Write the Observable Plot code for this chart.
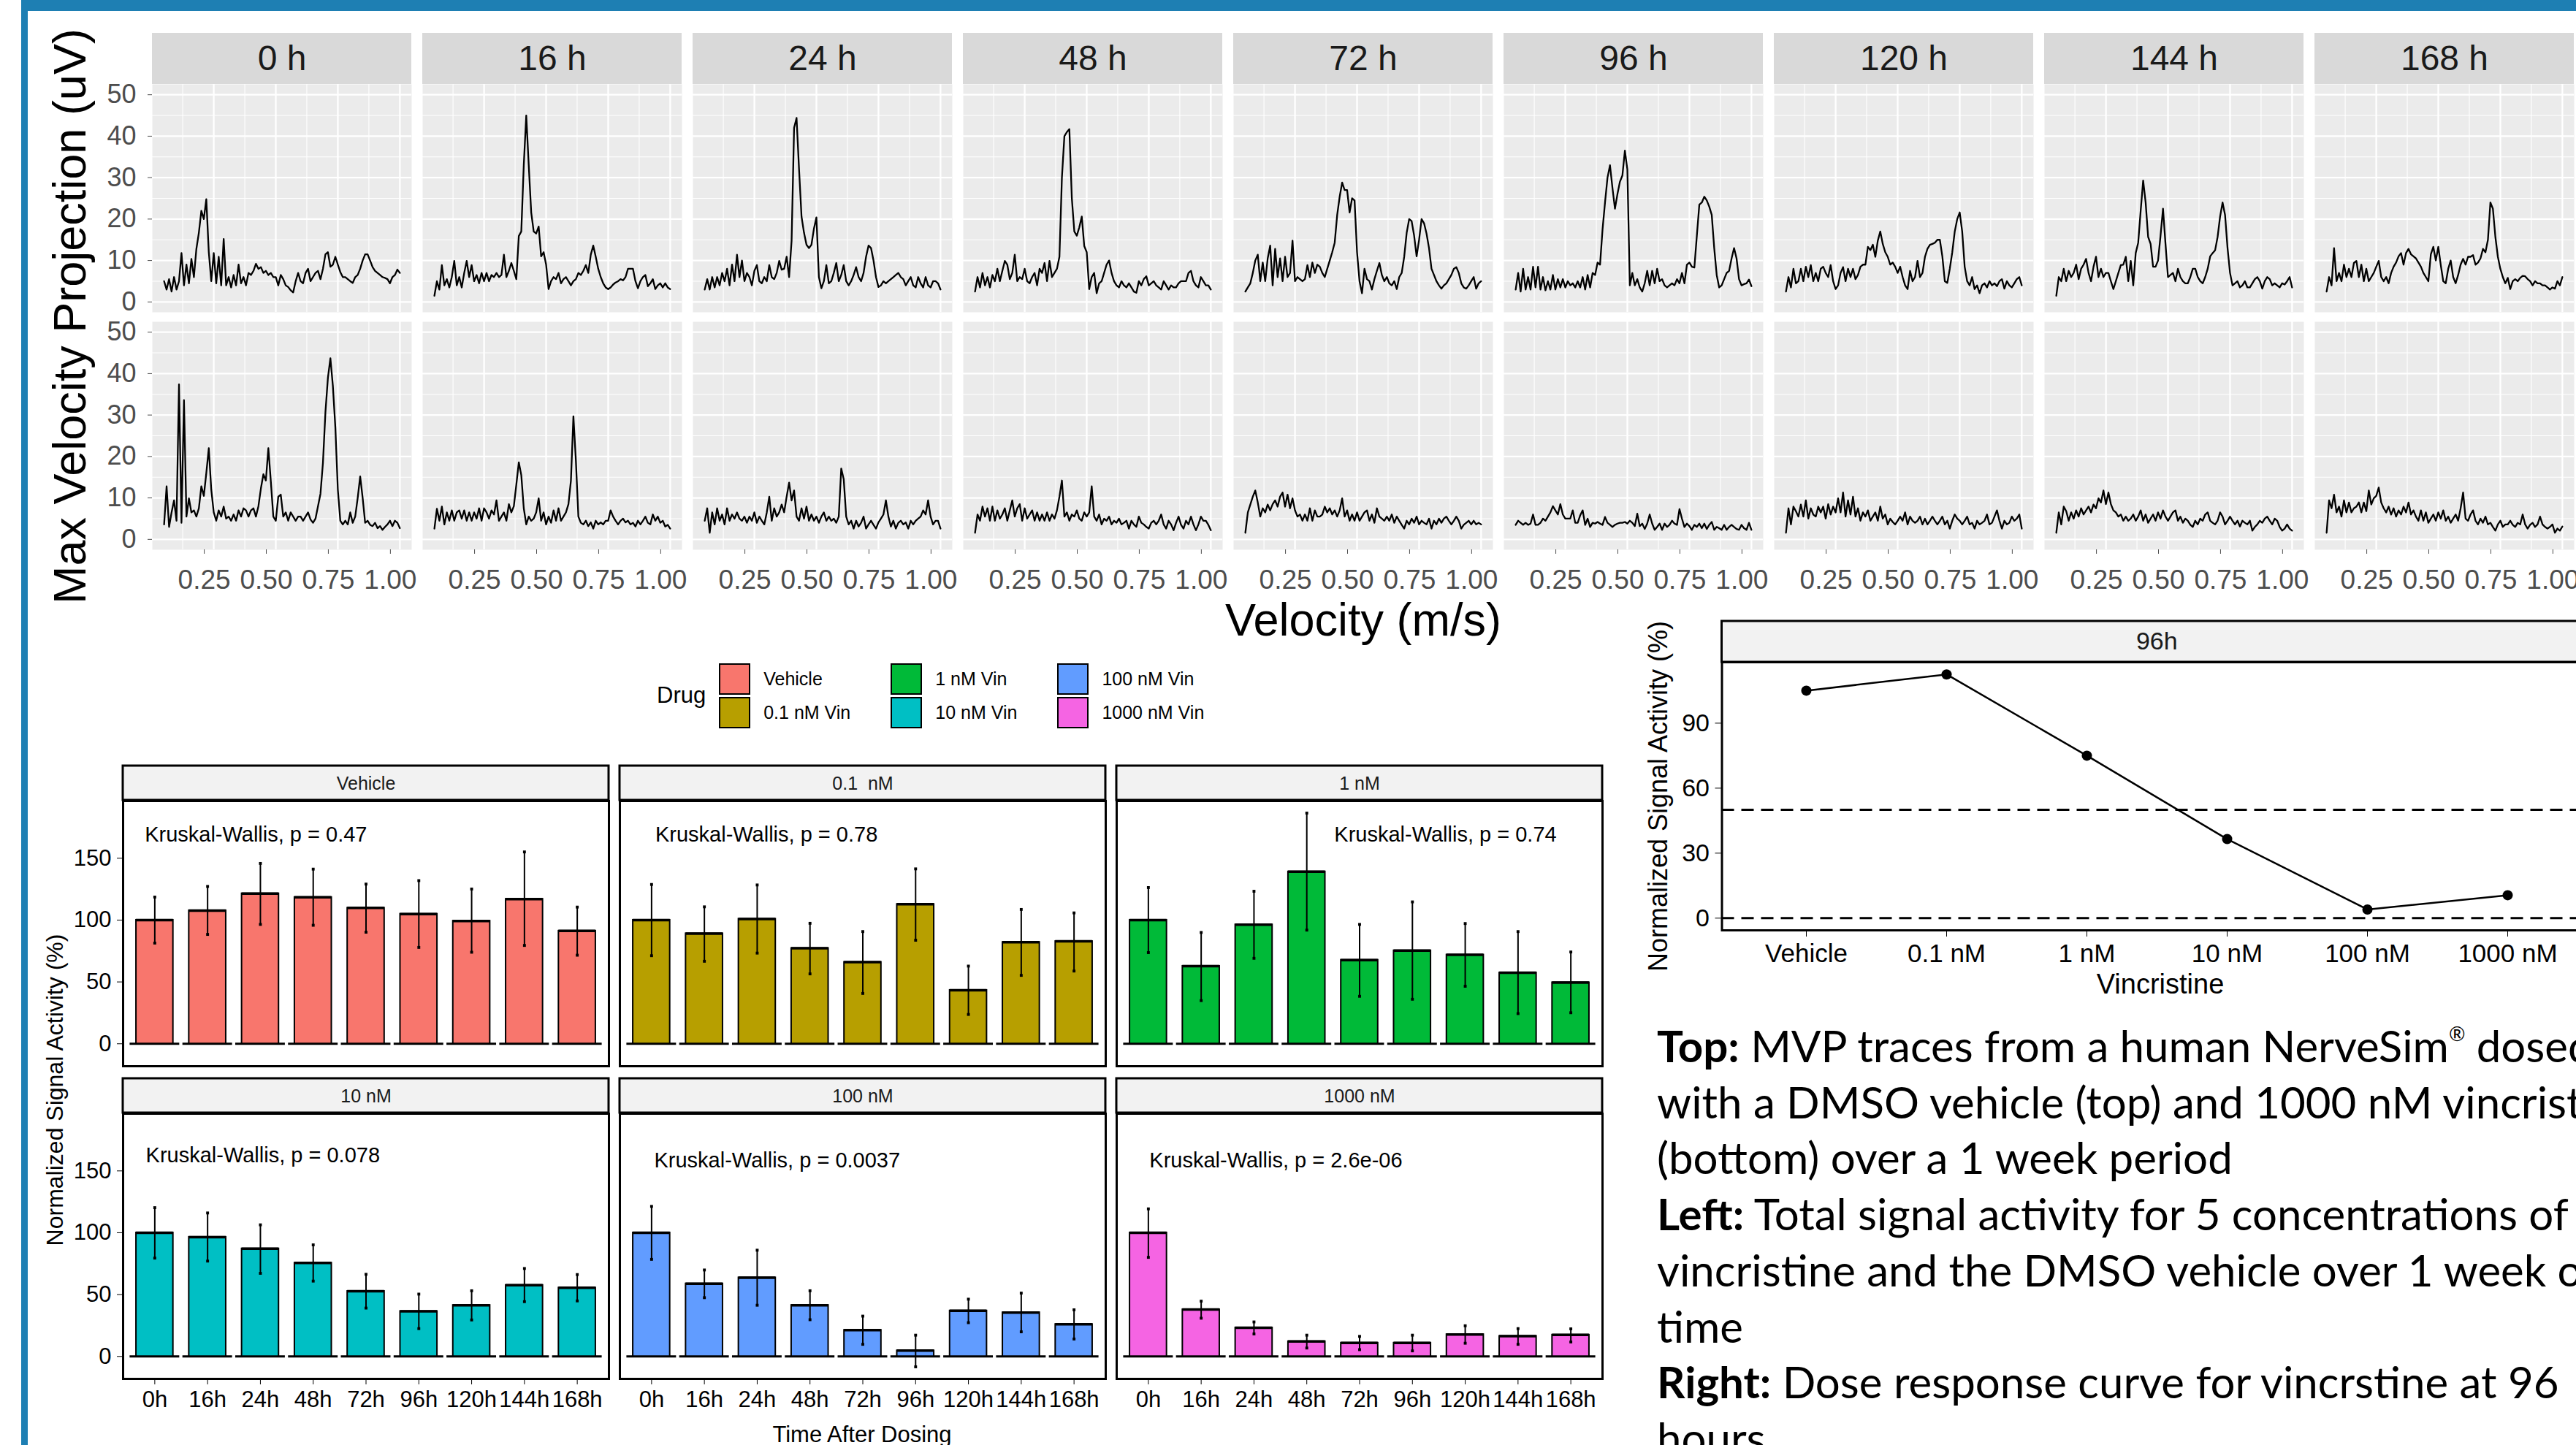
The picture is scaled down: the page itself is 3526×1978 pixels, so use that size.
<!DOCTYPE html>
<html><head><meta charset="utf-8">
<script src="https://cdn.jsdelivr.net/npm/d3@7"></script>
<script src="https://cdn.jsdelivr.net/npm/@observablehq/plot@0.6"></script>
<style>
html,body{margin:0;padding:0;background:#fff;}
body{width:3526px;height:1978px;overflow:hidden;position:relative;font-family:"Liberation Sans",Arial,Helvetica,sans-serif;color:#000;}
.box{position:absolute;}
.ctr{position:absolute;transform:translate(-50%,-50%);white-space:nowrap;line-height:1;}
.rot{position:absolute;transform:translate(-50%,-50%) rotate(-90deg);white-space:nowrap;line-height:1;}
#caption{position:absolute;left:2268px;top:1393px;font-family:Lato,"Open Sans",sans-serif;font-size:60px;line-height:76.7px;white-space:nowrap;color:#000;}
#caption b{font-weight:700;}
#caption sup{font-size:27px;vertical-align:29px;line-height:0;}
#legend{position:absolute;left:899px;top:906px;display:flex;align-items:center;}
#legend .title{font-size:31px;margin-right:18px;}
#legend .grid{display:grid;grid-auto-flow:column;grid-template-rows:46px 46px;column-gap:55px;}
#legend .item{display:flex;align-items:center;height:46px;}
#legend .key{width:43px;height:43px;box-sizing:border-box;border:2px solid #000;margin-right:18px;}
#legend .lab{font-size:25px;}
</style></head>
<body>
<div class="box" style="left:29px;top:0;width:3497px;height:15px;background:#1E7FB3"></div>
<div class="box" style="left:29px;top:0;width:9px;height:1978px;background:#1E7FB3"></div>
<div id="traces" class="box" style="left:0;top:0;"></div>
<div id="bars" class="box" style="left:0;top:1040px;"></div>
<div id="dose" class="box" style="left:2200px;top:820px;"></div>
<div id="legend"></div>
<div class="rot" style="left:95px;top:433px;font-size:63px;">Max Velocity Projection (uV)</div>
<div class="ctr" style="left:1866px;top:848px;font-size:63px;">Velocity (m/s)</div>
<div class="rot" style="left:75px;top:1492px;font-size:32px;">Normalized Signal Activity (%)</div>
<div class="ctr" style="left:1180px;top:1963px;font-size:31px;">Time After Dosing</div>
<div class="rot" style="left:2270px;top:1090px;font-size:36px;">Normalized Signal Activity (%)</div>
<div class="ctr" style="left:2957px;top:1347px;font-size:38px;">Vincristine</div>
<div id="caption"></div>
<script>
// ---------------- DATA ----------------
// MVP traces (uV), velocity bins from 0.05 to 1.00 m/s in steps of 0.01
const times = ["0","16","24","48","72","96","120","144","168"];
const traceRows = ["Vehicle","1000 nM"];
const velStart = 0.05, velStep = 0.01;

const veh0 = [5,3,5.5,2.5,6,3,5,11.8,4,9, 4.5,10.4,6,12.8,16.7,22,20,24.8,12,5, 11.8,4.5,10.9,4,15.2,4,6,3.5,6.5,4, 9,4.5,6,4,7,6.5,7.5,9.2,8,8.4, 7,7.5,6.5,7,6,6,4,6.5,5.5,4, 3.6,2.8,2.3,5,7,5,4.5,7,8,5, 6,7,7.5,5.5,8,11.5,12,8.5,9,10.9, 9,7.2,6,6,5.5,5,4.6,6,6.5,8, 10,11.5,11.5,10,8.4,7.5,7,6.5,6,5.8, 5.5,4.5,6,6.5,7.8,7];
const veh16 = [1.5,5,3,8.9,4,5.5,3.5,6,9.9,4, 6,3.5,7,9.9,6,8.9,5,6.5,4.5,7, 5,7,5,6.5,6,7,6,6.5,11.4,6, 7.5,9.4,7.5,5.5,15.9,17,33,45,33,21.6, 17,16.5,18.2,11,12,9,3.1,5,6,5.5, 7,4.5,5.5,6,5,4,5,5.5,7,6.5, 7.5,8.9,7,11.4,13.6,10.9,8,6,4.5,3.5, 3.1,3.5,4.2,4.7,5,5.5,5.2,6,8,8, 8,5,3.3,5,6,6.5,3.8,4.5,5.5,3.1, 4,4.5,3.5,4.5,3.5,3.1];
const veh24 = [3,5.5,3,6,3.5,6,4,7,5,8, 4,9,5,11.4,6,10,5,7,6,4, 7.5,8.9,5,4.5,6,5,8.9,6,5.5,7, 9.9,7.8,8,10.9,6,14.8,42,44.4,32,20.6, 16.7,13.8,13,13.8,17.7,20.4,6,3.3,5,8.9, 4.5,5,7,9.4,5,6.5,8.9,5,4,5, 6.5,8.4,6,5,7,10.9,13.6,13,10,6, 3.6,4,5,4.5,5,5.5,6,6.5,7,6, 5.5,4,5,6,4,3.5,6,4.5,3.5,6, 4,3.5,5,5,4.5,3];
const veh48 = [2.5,6,3.5,7,4,6,3.5,6.5,5,8, 5,7.5,9.9,9,5.5,7,11.4,5,6,5.5, 8,5,4.5,6,7,4,8,7,9.4,5, 9.9,6,7,8,10.9,30,40,41,41.7,25, 17,16,18,20.6,13.5,12,3.1,6,7,2.1, 4.5,5,7,9,10,7,5,4,3.5,5, 4,3.5,4.5,3.5,2.5,2.2,5,4,5.5,6.2, 4,4.5,5,4,3.5,3,5,4,3,4, 3.5,3.5,4.5,5,5,5,7,7.5,5,4, 3.5,6,5,4,4,3];
const veh72 = [2.5,3.5,4.5,7,10,11.4,5,9.5,5,10.5, 13.6,4,12.8,6,10.5,5,10.9,6,7,14.8, 5,6,5.5,5,5.5,8.9,6,9.5,7,9, 8.5,7,6,8,10,12,14.3,21,25.4,28.8, 27,27,21.6,25,24.5,12,5,2.1,8,5.5, 5,3,5.5,7.5,9.4,6.5,5,6,4.5,4, 5,3.1,6,7,10.9,16.7,20,19.5,16,11, 15,20,19,16.5,13,8,6.5,5,4,3.2, 4,4.5,5.5,6.5,8,8.4,7,4.5,3.5,3.2, 4,5,6,3.2,4.5,5];
const veh96 = [3,7,2.5,8,3,6,3,8.5,3.5,8.5, 3,6,2.8,5,3,6.5,3,5.5,3.5,5.5, 3.5,5,4,4.5,3.5,5,3.5,6,3,6.5, 3.5,7,6.5,9.5,9,17.5,24,30,33,27.5, 22.5,26,29,30.5,36.5,32,4,7,4,5.5, 3.5,2.5,4.5,7.5,4,7.5,4.5,8,5,5.5, 4,3.5,4,4.5,4,5.5,4.5,7,4.5,9, 9.5,8.5,8.3,16,23.5,24,25.4,24.5,23,21, 13,6.5,3.5,4,5.5,7,7.5,10.5,13,10.5, 5.5,4,4.3,4.5,5.4,3.8];
const veh120 = [2.5,6,3.5,8,4.5,5,8,5,8.5,6, 8.9,5,7,5,8,8.5,7,6,8.9,5, 3.1,4,7,8.4,5,8,6,8,5.5,6.5, 8.5,9,9,13.3,12.5,13.8,10.9,14.8,17,14, 12,10.9,9,9.5,8.5,7,8.5,6,4,3.1, 7.5,5,6,9.9,6,7,10.9,12.8,13.8,14, 14.3,15,15,11,5,4.6,8,12,17,20, 21.6,17,8.5,5,4,6,3.1,4,2.1,4, 4.5,3.5,5,4,4.5,3.8,5,5.5,3.2,5, 4,3.5,4.5,5.5,6,4];
const veh144 = [1.5,6,5,8,5,7.5,6,7,9,5.5, 8,9,10.4,7,5,8.5,10.9,6,8,6, 7,7,5,3.1,5,7,8.9,9,10.9,5, 9.9,4,11.8,14.3,22,29.3,24,15.7,14,8.5, 8.5,10,16,22.5,14,6,6.5,7,5,8, 6,5,4.5,4.5,6,8,8,6,5,4.5, 6,8,11,11.8,12.5,15.7,20.6,24,21,13, 7,4,4.5,5,3.5,4,5,3.5,3.5,4.5, 5.5,6,5,3.2,5,6,5.5,4,4.5,4, 3.5,4.5,4.2,5,6,3.5];
const veh168 = [2.5,6,4,13,5,7,5,9,6,8, 6,9.4,9.9,6,9,5,8,5,6,7, 8.5,9.9,6,5,6,4.5,7,8.5,9.5,11, 11.8,9,11.8,12.8,11.5,11,10.5,9.5,8.5,7, 6,5,11.5,13.3,10,13.3,8.9,5,4.5,8, 10,6,4.5,6.5,9,10.4,9,10.9,10.9,11.3, 9,9.5,10.5,12.8,12,15,24,22.5,15.7,10.9, 8,6,4.5,5.8,3.1,5,5.5,5,5.8,6.3, 6.2,5.5,5,4,5,4.5,4.5,4,4,3.5, 3,3.5,3.2,5,4,6];

const vin0 = [3.6,12.8,3,6.5,9.4,4.5,37.4,4,33.6,5.5, 9.9,6.5,7,5.5,7.5,12.8,10.5,16,22,12, 6.5,4.5,7,5.5,7.9,5,5.5,4.5,6,4.5, 7,5.5,7.5,7,5.5,7,7.5,5.5,8,12.3, 15.7,14.2,22,14,5.5,4.5,10.3,10.8,5.5,6.5, 4.5,6.5,5.5,4.5,5.5,5.5,4.5,5.5,6.5,4.8, 4,5,8,11,18.5,30.7,39,43.7,37,27, 12,4.5,3.6,4.5,3.6,6.5,4,5.5,10,15.2, 10,4,4.5,3.5,3.2,4,2.7,3.2,2.3,3, 3.6,4.5,3.2,4.5,4,2.7];
const vin16 = [2.6,7.4,4.5,7.9,3.6,6.5,4.5,7,4.5,6.5, 7,5,7,4.5,6.5,4.5,6.5,5,7.5,4.5, 7.5,6.5,5,7,6,9.4,4.5,5.5,6.5,4.5, 8.5,6.5,8,13.2,18.6,15.5,7.5,3.6,5.5,4.5, 5,6.5,9.9,4.5,6.5,3.6,5.5,4,7,4.5, 7.5,4.5,5.5,6.5,8.5,14.2,29.7,19,5.5,4, 3.6,4.5,3.2,4.1,2.6,4.5,3.6,4.1,3.6,4.5, 4.5,7,5.5,4.5,3.6,4.5,5,4.1,4.5,3.6, 4,3.1,4.5,3.6,4.5,5.5,4,3.6,6,4.5, 5.5,4,4.5,3.1,3.5,2.6];
const vin24 = [4.5,7.5,1.6,6.5,3.6,7.5,4.5,6,3.6,7.5, 4.5,6,5,6.5,5,4.5,5.5,4,5.5,4.5, 6.5,4,5.5,4.5,3.6,6.5,10.3,4.5,7.5,5.5, 6.5,8.4,6.5,10.3,13.7,9.4,11.8,5.5,4.5,7.5, 5,7.9,4.5,6,4.5,5.5,4,5.5,6.5,4.5, 5.5,4.5,5,4,5.5,17.1,14.5,5.5,3.6,4.5, 2.6,4.5,3.1,4,5.5,2.6,3.6,4.5,3.5,2.6, 4.1,5,6,9.4,5.5,3.1,4.5,2.6,4,4.5, 3.6,4.1,2.6,4.5,3.6,4.5,5,5.5,7,6, 9.4,5.5,3.6,4.5,4.5,2.6];
const vin48 = [1.6,6,4.5,7.9,5.5,7.5,4.5,7.9,4.5,7, 5,6,7.5,4.5,7,9.4,5.5,7.5,8.5,4.5, 7.5,5,6,7,4.5,6.5,4.5,6,4.5,6.5, 4.5,6,5,7,10.3,14.2,5.5,6.5,4.5,6, 5.5,7,5,4.5,6.5,5.5,6.5,12.8,5.5,4.5, 6,3.6,5,4.5,5.5,3.6,4.5,4,5,3.6, 4,4.5,2.6,4.5,3.6,3,5.5,4,3.6,3, 2.6,4,4.5,3.6,4.5,6,3.6,2.6,4.5,3.6, 2.2,4,5.5,3.5,2.6,4.5,3.6,5.5,3.6,2.2, 3.6,5.5,4.5,4.5,3.5,2.2];
const vin72 = [1.6,6.5,8.4,10.3,11.8,8.9,5.5,7.5,6.5,8.4, 7,8.5,9.4,7.9,10.3,11.3,7.9,10.8,7.5,9.9, 7,5.5,6,4.5,6,4.5,7.5,4.5,7,5.5, 5.5,6,7.9,6.5,7.5,6,7,5.5,7,9.9, 5.5,7,4.5,6,4.5,6.5,4.5,5.5,6.5,7, 4.5,6,4,7.5,5.5,5,4.5,5.5,4.5,6, 4,5.5,4.5,3.5,2.6,4.5,3.6,5,4,5.5, 3.6,4.5,4,3.6,5,2.6,4.5,3.6,5,4, 5,5.5,4.5,3.6,4.5,5.5,4.5,2.6,3.5,4, 4.5,3.6,4.5,3.6,4,3.6];
const vin96 = [3.5,4.5,4,3.5,4,3.5,3.8,6,3.5,3.5, 4,5,4.5,5.5,6.5,8,7,6,8.5,6, 5,5,5,7,4,4,5.8,7,3.5,5, 3,4,3.8,4.2,3.8,3.5,5.4,4,3.5,3, 3.5,3.8,4,4,4.2,3.8,4.5,4,3.2,6.2, 3.2,3.8,2.5,3.8,6,3.8,2.3,3,3.8,2.3, 3.8,3,3.5,4.5,3.8,3.5,7.3,5,3,3.8, 3.2,2.3,3.5,3,3.8,2.7,3.8,2.5,3.5,4.2, 2.3,3,2.7,2.3,3.5,2.3,3,3.5,3,2.5, 2.3,3.5,2.7,2.3,4,2.3];
const vin120 = [1.6,7.5,3.6,7.9,6.8,5.5,8.4,5.5,9.4,5, 7.5,6,5.5,7.9,6.5,7.9,5,8.5,6,7.9, 6.5,9.9,6.5,11.3,5.5,9.4,6,10.3,5.5,7.5, 4.5,6.5,5.5,7,4.5,5.5,6.5,4.5,7.9,5, 6,3.6,5,4.2,3.6,4.5,5.5,4.5,6.5,3.6, 5.5,4.5,4,4.5,5.5,3.6,5,3.6,4.5,5.5, 4.5,3.6,4.5,5.5,3.6,4.5,2.6,4.5,6,5, 4.5,3.6,4.5,5.5,3.6,4,2.6,4.5,3.6,4, 4.5,6,3.6,4,5.5,7,4.5,2.6,4.5,3.6, 4,5.5,4.5,5,6,2.6];
const vin144 = [1.6,6.5,3.6,7.9,6.8,4.5,6.5,5,7,5.5, 7.5,6,7,7.9,6.5,8.4,7.5,9.9,8.9,11.8, 8.5,11.3,8.5,7,6.5,5.5,6,4.5,5.5,4.5, 5,6,4.5,5.5,7,4.5,6,4,5,6, 4.5,6.5,5,7,5.5,4.5,5.5,6.5,7,4.5, 5.5,4,5,4.5,3.5,3,4.5,3.6,5,4.5, 6,6.5,4.5,4,3.6,4.5,6.5,5.5,3.6,4.5, 5.5,4.5,3.6,4.5,3.1,4.5,4,3.6,4.5,2.1, 3,3.6,4.5,4,5,5.5,4.5,3.6,5,4.5, 3,2.1,2.6,3.6,2.6,2.1];
const vin168 = [1.6,9.4,7.5,10.8,6.5,7.9,5.5,9.4,6.5,8.9, 6.5,7.5,7.9,8.9,6.5,8.9,6.8,11.8,8.4,9.9, 10.5,12.5,8.9,7.5,6.5,7.9,6,7.5,5.5,7, 6,7.9,6.5,8.9,6,7,5.5,4.5,7,4.5, 6.5,4,5,6,4.5,6.5,5,7,4.5,5.5, 4,5,6,4.5,7.5,11.3,5,4.5,6,7, 4.5,3.6,5,4,5.5,3.6,4,3,2.1,3.6, 4.5,3,3.6,3.6,4.5,3.5,3,4,3.6,6, 3.6,2.6,3.5,4,3,3.6,5.5,3.6,3,2.6, 3,3.6,1.6,2.6,2.1,3.1];

// Normalized signal activity (%) bar charts
const drugs = ["Vehicle","0.1 nM","1 nM","10 nM","100 nM","1000 nM"];
const stripLabels = ["Vehicle","0.1\u00A0 nM","1 nM","10 nM","100 nM","1000 nM"];
const legendLabels = ["Vehicle","0.1 nM Vin","1 nM Vin","10 nM Vin","100 nM Vin","1000 nM Vin"];
const barTimes = ["0h","16h","24h","48h","72h","96h","120h","144h","168h"];

const meanVehicle = [100,107.7,121.4,118.4,109.8,104.9,99.3,117,91.2];
const hiVehicle   = [118.6,127.2,145.8,141.2,129.1,131.9,125.1,155.1,110.5];
const loVehicle   = [81.4,88.4,96.5,95.8,90.2,77.9,74,79.5,71.6];
const mean01 = [100,89.1,100.9,77.2,66,112.8,43.3,82.1,82.8];
const hi01   = [128.8,110.7,128.4,97.4,90.7,141.4,62.8,108.6,105.8];
const lo01   = [71.2,66.7,73.3,56.5,40.7,83.7,23.7,55.3,58.8];
const mean1 = [100,62.8,96.3,139.1,67.7,75.3,71.9,57.4,49.5];
const hi1   = [126.3,90,123.3,186.5,96.5,114.7,97.2,90.7,74.2];
const lo1   = [73.7,34.9,69.1,91.9,38.4,36,46.5,24.4,25.1];
const mean10 = [100,96.5,87.1,75.6,52.7,36.5,41.4,57.6,55.5];
const hi10   = [120.3,116,106.4,90.2,66.4,50.4,53.1,71.1,66.2];
const lo10   = [79.5,77.1,67.2,60.9,39.1,22.5,29.5,44.3,44.9];
const mean100 = [100,58.8,63.7,41.4,21.3,4.7,36.9,35.5,26];
const hi100   = [121.3,69.9,85.9,53.1,32.6,17.2,46.3,51.2,37.7];
const lo100   = [78.5,47.5,41.4,29.7,9.8,-8.4,27.3,19.9,14.1];
const mean1000 = [100,37.9,23.2,12.1,10.9,10.9,17.8,16.4,17.4];
const hi1000   = [119.3,44.7,27.9,17.2,16.2,17.2,24.8,22.5,22.3];
const lo1000   = [80.1,30.9,18.2,6.8,5.5,4.5,10.7,9.8,11.7];

// Kruskal-Wallis p values and label anchors (data units: time index, %)
const kwP = ["0.47","0.78","0.74","0.078","0.0037","2.6e-06"];
const kwX = [-0.19,0.07,3.52,-0.17,0.05,0.02];
const kwY = [169,169,169,162.5,158.5,158.5];

// Dose response at 96 h
const dose96 = [105,112.5,75,36.5,4,10.6];
const refLines = [0,50];

// ---------------- STYLE ----------------
const drugColors = ["#F8766D","#B79F00","#00BA38","#00BFC4","#619CFF","#F564E3"];

// ---------------- TRACES ----------------
const traceSeries = [[veh0,veh16,veh24,veh48,veh72,veh96,veh120,veh144,veh168],
                     [vin0,vin16,vin24,vin48,vin72,vin96,vin120,vin144,vin168]];
const traceTable = [];
traceRows.forEach((row, r) => times.forEach((t, k) => {
  traceSeries[r][k].forEach((v, i) => traceTable.push({row, time: t, v: velStart + i * velStep, mvp: v}));
}));
const traceStrips = times.map(t => ({time: t, row: traceRows[0]}));
const tracePanelH = 312;
const majorX = [0.25, 0.5, 0.75, 1.0], minorX = [0.125, 0.375, 0.625, 0.875];
const majorY = [0, 10, 20, 30, 40, 50], minorY = [5, 15, 25, 35, 45];

const traceChart = Plot.plot({
  width: 3526, height: 830,
  marginLeft: 207, marginRight: 2, marginTop: 115, marginBottom: 78,
  style: {fontFamily: "'Liberation Sans', Arial, sans-serif", fontSize: "37px", color: "#4D4D4D", background: "transparent", maxWidth: "none", overflow: "visible"},
  fx: {domain: times, paddingInner: 15 / 370, paddingOuter: 0, axis: null, label: null},
  fy: {domain: traceRows, paddingInner: 13 / 325, paddingOuter: 0, axis: null, label: null},
  x: {domain: [0.0025, 1.0475], label: null},
  y: {domain: [-2.5, 52.5], label: null},
  marks: [
    Plot.frame({fill: "#EBEBEB", stroke: null}),
    Plot.ruleX(minorX, {stroke: "white", strokeWidth: 1.1}),
    Plot.ruleY(minorY, {stroke: "white", strokeWidth: 1.1}),
    Plot.ruleX(majorX, {stroke: "white", strokeWidth: 2.3}),
    Plot.ruleY(majorY, {stroke: "white", strokeWidth: 2.3}),
    Plot.rect(traceStrips, {fx: "time", fy: "row", fill: "#D9D9D9", insetTop: -70, insetBottom: tracePanelH}),
    Plot.text(traceStrips, {fx: "time", fy: "row", text: d => d.time + " h", frameAnchor: "top", lineAnchor: "middle", dy: -35, fontSize: 48, fill: "#1A1A1A"}),
    Plot.line(traceTable, {fx: "time", fy: "row", x: "v", y: "mvp", stroke: "black", strokeWidth: 2.3}),
    Plot.axisY({ticks: majorY, tickSize: 6, tickPadding: 16, label: null, fontSize: 36, color: "#4D4D4D"}),
    Plot.axisX({ticks: majorX, tickFormat: d3.format(".2f"), tickSize: 6, tickPadding: 21, dx: -13, label: null, fontSize: 37, color: "#4D4D4D"})
  ]
});
document.getElementById("traces").append(traceChart);

// ---------------- BARS ----------------
const barMeans = [meanVehicle, mean01, mean1, mean10, mean100, mean1000];
const barHis = [hiVehicle, hi01, hi1, hi10, hi100, hi1000];
const barLos = [loVehicle, lo01, lo1, lo10, lo100, lo1000];
const barTable = [];
drugs.forEach((drug, d) => barMeans[d].forEach((m, i) => barTable.push({
  drug, col: d % 3, row: Math.floor(d / 3), i, mean: m, lo: barLos[d][i], hi: barHis[d][i]
})));
const barStrips = drugs.map((drug, d) => ({drug, label: stripLabels[d], col: d % 3, row: Math.floor(d / 3)}));
const kwTable = drugs.map((drug, d) => ({col: d % 3, row: Math.floor(d / 3), lx: kwX[d], ly: kwY[d], label: "Kruskal-Wallis, p = " + kwP[d]}));
const [eMin, eMax] = d3.extent(barLos.flat().concat(barHis.flat()));
const ePad = (eMax - eMin) * 0.05;
const barPanelH = 364;
const half = 0.35;

const barChart = Plot.plot({
  width: 2200, height: 938,
  marginLeft: 168, marginRight: 7, marginTop: 55, marginBottom: 90,
  style: {fontFamily: "'Liberation Sans', Arial, sans-serif", fontSize: "31px", color: "black", background: "transparent", maxWidth: "none", overflow: "visible"},
  fx: {domain: [0, 1, 2], paddingInner: 15 / 680, paddingOuter: 0, axis: null, label: null},
  fy: {domain: [0, 1], paddingInner: 0.1515, paddingOuter: 0, axis: null, label: null},
  x: {domain: [-0.6, 8.6], label: null},
  y: {domain: [eMin - ePad, eMax + ePad], label: null},
  color: {domain: drugs, range: drugColors},
  marks: [
    Plot.ruleY(barTable, {fx: "col", fy: "row", x1: d => d.i - 0.47, x2: d => d.i + 0.47, y: 0, stroke: "black", strokeWidth: 3}),
    Plot.rectY(barTable, {fx: "col", fy: "row", x1: d => d.i - half, x2: d => d.i + half, y1: 0, y2: "mean", fill: "drug", stroke: "black", strokeWidth: 2}),
    Plot.ruleY(barTable, {fx: "col", fy: "row", x1: d => d.i - half, x2: d => d.i + half, y: "mean", stroke: "black", strokeWidth: 3.5}),
    Plot.ruleX(barTable, {fx: "col", fy: "row", x: "i", y1: "lo", y2: "hi", stroke: "black", strokeWidth: 2}),
    Plot.dot(barTable, {fx: "col", fy: "row", x: "i", y: "hi", symbol: "square", r: 2.2, fill: "black", stroke: null}),
    Plot.dot(barTable, {fx: "col", fy: "row", x: "i", y: "lo", symbol: "square", r: 2.2, fill: "black", stroke: null}),
    Plot.frame({stroke: "black", strokeWidth: 3}),
    Plot.rect(barStrips, {fx: "col", fy: "row", fill: "#F2F2F2", stroke: "black", strokeWidth: 3, insetTop: -48, insetBottom: barPanelH}),
    Plot.text(barStrips, {fx: "col", fy: "row", text: "label", frameAnchor: "top", lineAnchor: "middle", dy: -24, fontSize: 25, fill: "#1A1A1A"}),
    Plot.text(kwTable, {fx: "col", fy: "row", x: "lx", y: "ly", text: "label", textAnchor: "start", fontSize: 29, fill: "black"}),
    Plot.axisY({ticks: [0, 50, 100, 150], tickSize: 8, tickPadding: 8, label: null, fontSize: 31, color: "black"}),
    Plot.axisX({ticks: d3.range(barTimes.length), tickFormat: i => barTimes[i], tickSize: 8, tickPadding: 8, label: null, fontSize: 31, color: "black"})
  ]
});
document.getElementById("bars").append(barChart);

// ---------------- DOSE RESPONSE ----------------
const doseTable = drugs.map((d, i) => ({dose: d, value: dose96[i]}));
const [dMin, dMax] = d3.extent(dose96.concat(refLines));
const dPad = (dMax - dMin) * 0.05;
const dosePanelH = 367;
const doseChart = Plot.plot({
  width: 1360, height: 555,
  marginLeft: 156.5, marginRight: 13, marginTop: 86, marginBottom: 102,
  style: {fontFamily: "'Liberation Sans', Arial, sans-serif", fontSize: "34px", color: "black", background: "transparent", maxWidth: "none", overflow: "visible"},
  x: {type: "point", domain: drugs, padding: 0.6, label: null},
  y: {domain: [dMin - dPad, dMax + dPad], label: null},
  marks: [
    Plot.ruleY(refLines, {stroke: "black", strokeWidth: 3, strokeDasharray: "17,10"}),
    Plot.frame({stroke: "black", strokeWidth: 3}),
    Plot.rect([{label: "96h"}], {fill: "#F2F2F2", stroke: "black", strokeWidth: 3, insetTop: -56, insetBottom: dosePanelH}),
    Plot.text([{label: "96h"}], {text: "label", frameAnchor: "top", lineAnchor: "middle", dy: -28, fontSize: 34, fill: "#1A1A1A"}),
    Plot.line(doseTable, {x: "dose", y: "value", stroke: "black", strokeWidth: 2.5}),
    Plot.dot(doseTable, {x: "dose", y: "value", r: 7, fill: "black", stroke: null}),
    Plot.axisY({ticks: [0, 30, 60, 90], tickSize: 9, tickPadding: 8, label: null, fontSize: 34, color: "black"}),
    Plot.axisX({tickSize: 9, tickPadding: 10, label: null, fontSize: 35, color: "black"})
  ]
});
document.getElementById("dose").append(doseChart);

// ---------------- LEGEND ----------------
const legend = document.getElementById("legend");
const lt = document.createElement("div"); lt.className = "title"; lt.textContent = "Drug"; legend.append(lt);
const lg = document.createElement("div"); lg.className = "grid"; legend.append(lg);
legendLabels.forEach((lab, i) => {
  const it = document.createElement("div"); it.className = "item";
  const k = document.createElement("div"); k.className = "key"; k.style.background = drugColors[i];
  const s = document.createElement("div"); s.className = "lab"; s.textContent = lab;
  it.append(k, s); lg.append(it);
});

// ---------------- CAPTION ----------------
const captionLines = [
  ["Top:", " MVP traces from a human NerveSim", "®", " dosed"],
  ["", "with a DMSO vehicle (top) and 1000 nM vincristine"],
  ["", "(bottom) over a 1 week period"],
  ["Left:", " Total signal activity for 5 concentrations of"],
  ["", "vincristine and the DMSO vehicle over 1 week of"],
  ["", "time"],
  ["Right:", " Dose response curve for vincrstine at 96"],
  ["", "hours"]
];
const cap = document.getElementById("caption");
captionLines.forEach(parts => {
  const line = document.createElement("div");
  if (parts[0]) { const b = document.createElement("b"); b.textContent = parts[0]; line.append(b); }
  line.append(document.createTextNode(parts[1]));
  if (parts[2]) { const sp = document.createElement("sup"); sp.textContent = parts[2]; line.append(sp); line.append(document.createTextNode(parts[3])); }
  cap.append(line);
});
</script>
</body></html>
